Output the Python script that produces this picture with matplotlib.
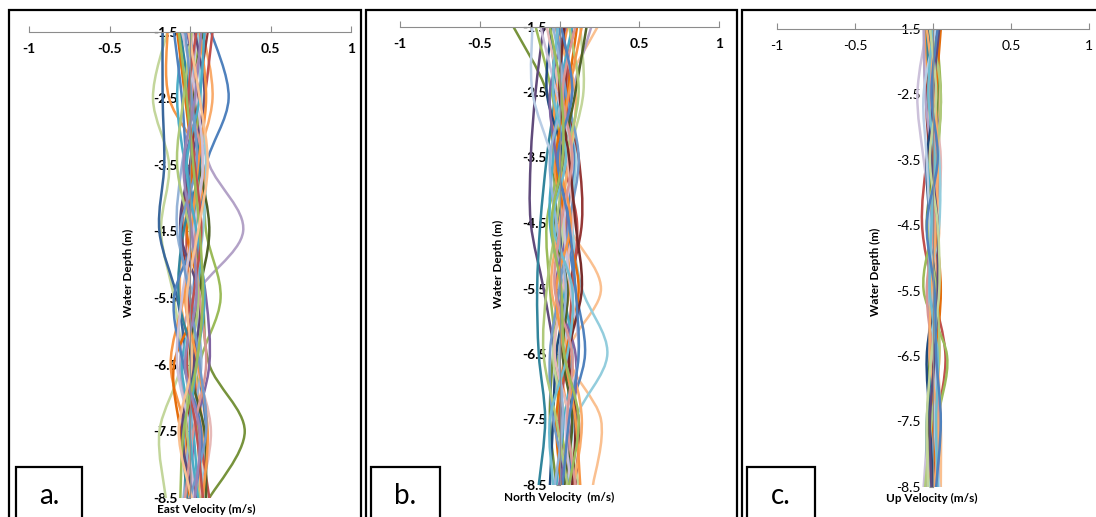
#!/usr/bin/env python3

import matplotlib
matplotlib.use('Agg')
import matplotlib.pyplot as plt
from matplotlib.path import Path
from matplotlib.patches import PathPatch, Rectangle
import numpy as np

plt.rcParams['font.family'] = ['Lato', 'DejaVu Sans']

# depths of each velocity profile (m)
depth = [-1.5, -2.5, -3.5, -4.5, -5.5, -6.5, -7.5, -8.5]

# East velocity profiles (m/s), one list per ensemble
east = [
    [-0.14, -0.23, -0.13, -0.18, -0.10, -0.06, -0.19, -0.15],
    [0.13, 0.24, 0.10, 0.06, 0.02, 0.05, 0.10, 0.08],
    [0.04, 0.02, 0.12, 0.33, 0.02, -0.06, 0.00, 0.03],
    [0.00, 0.04, 0.06, 0.03, 0.08, 0.12, 0.34, 0.12],
    [0.06, 0.03, 0.08, 0.10, 0.19, 0.06, 0.05, 0.07],
    [-0.17, -0.17, -0.16, -0.19, -0.08, -0.02, 0.00, -0.02],
    [-0.14, -0.13, 0.08, 0.02, -0.04, -0.12, -0.03, -0.02],
    [0.08, 0.14, 0.04, -0.04, -0.06, 0.02, 0.08, 0.05],
    [0.14, 0.09, 0.02, -0.02, -0.01, 0.02, 0.06, 0.12],
    [-0.02, 0.05, -0.03, 0.03, 0.10, 0.12, 0.03, 0.00],
    [-0.04, -0.08, -0.03, 0.06, 0.04, -0.05, 0.02, 0.05],
    [0.02, -0.02, 0.05, 0.00, -0.03, 0.04, 0.13, 0.06],
    [0.11, 0.05, 0.00, -0.05, 0.00, 0.03, -0.02, 0.04],
    [0.05, 0.07, 0.10, 0.08, 0.02, -0.03, 0.04, 0.09],
    [-0.08, -0.03, 0.01, -0.02, 0.05, -0.10, -0.06, 0.00],
    [0.00, 0.03, -0.05, -0.08, 0.02, 0.07, 0.00, -0.04],
    [0.08, 0.02, 0.06, 0.12, 0.05, 0.00, 0.09, 0.10],
    [-0.06, 0.00, 0.06, -0.04, -0.07, 0.02, -0.04, -0.02],
    [0.03, 0.09, 0.00, -0.06, 0.06, 0.02, -0.05, 0.02],
    [-0.10, -0.05, -0.02, 0.03, -0.10, -0.04, 0.07, 0.03],
    [0.10, 0.01, 0.08, 0.03, 0.06, 0.10, 0.02, -0.03],
    [0.01, -0.04, -0.08, 0.00, 0.05, 0.00, -0.02, 0.06],
    [0.06, 0.10, 0.05, 0.01, -0.03, 0.05, 0.11, 0.08],
    [-0.05, 0.04, 0.08, 0.02, -0.05, -0.08, 0.00, 0.02],
    [0.09, 0.06, -0.02, 0.04, 0.09, 0.04, 0.00, 0.05],
    [-0.03, 0.01, 0.04, -0.06, 0.00, 0.06, 0.10, 0.00],
    [0.04, -0.01, 0.03, 0.07, 0.02, -0.02, 0.04, 0.08],
    [-0.07, -0.02, 0.02, 0.06, 0.08, 0.04, -0.04, -0.06],
    [0.07, 0.03, -0.04, 0.01, 0.04, -0.03, 0.06, 0.03],
    [-0.01, 0.06, 0.11, 0.05, -0.02, 0.01, -0.07, 0.01],
]
east_colors = ['#C3D69B', '#4F81BD', '#B3A2C7', '#77933C', '#9BBB59', '#3A679C',
               '#F79646', '#F9AB6B', '#C0504D', '#8064A2', '#4BACC6', '#E6B9B8',
               '#943634', '#92CDDC', '#E46C0A', '#95B3D7', '#4F6228', '#31859C',
               '#5F497A', '#4F81BD', '#D99694', '#AFC97A', '#F79646', '#CCC1DA',
               '#4BACC6', '#729ACA', '#C0504D', '#9BBB59', '#9983B5', '#FAC090']

# North velocity profiles (m/s)
north = [
    [-0.29, -0.08, -0.04, -0.02, 0.00, -0.04, -0.06, -0.02],
    [0.24, 0.03, -0.02, 0.05, 0.26, 0.06, 0.26, 0.21],
    [0.20, 0.08, 0.00, -0.04, 0.02, 0.04, 0.00, 0.05],
    [-0.10, -0.15, -0.18, -0.18, -0.10, -0.03, 0.02, 0.00],
    [-0.06, -0.03, -0.08, -0.12, -0.14, -0.13, -0.09, -0.13],
    [0.02, 0.06, 0.10, 0.08, 0.14, 0.30, 0.10, 0.06],
    [-0.17, -0.17, -0.05, 0.02, 0.00, 0.05, 0.08, 0.03],
    [0.08, 0.04, 0.12, 0.14, 0.06, 0.02, 0.12, 0.10],
    [-0.15, -0.05, 0.00, -0.08, -0.06, -0.02, 0.00, 0.08],
    [0.05, -0.02, -0.04, 0.03, 0.06, 0.00, 0.05, 0.02],
    [0.00, 0.03, 0.09, 0.05, 0.10, 0.16, 0.06, 0.08],
    [-0.05, -0.08, 0.02, 0.00, 0.04, -0.02, -0.04, -0.06],
    [0.13, 0.15, 0.06, 0.02, 0.03, -0.04, 0.04, 0.12],
    [0.02, 0.06, 0.03, 0.11, 0.08, 0.05, 0.00, 0.04],
    [-0.03, 0.10, 0.06, 0.00, -0.05, 0.06, 0.14, 0.09],
    [0.08, 0.00, -0.04, -0.06, 0.02, 0.08, 0.03, -0.02],
    [-0.08, 0.00, 0.05, 0.08, 0.02, -0.03, 0.06, 0.04],
    [0.11, 0.05, -0.02, 0.04, 0.12, 0.04, -0.02, 0.01],
    [0.04, -0.06, -0.02, 0.05, -0.02, 0.10, 0.08, 0.00],
    [-0.02, 0.04, 0.12, 0.06, 0.00, -0.06, -0.04, 0.06],
    [0.17, 0.10, 0.02, -0.03, 0.05, 0.02, 0.08, 0.03],
    [-0.12, -0.02, 0.08, 0.03, 0.07, 0.12, 0.04, 0.07],
    [0.06, 0.12, 0.04, -0.02, -0.08, -0.10, -0.02, 0.05],
    [0.03, 0.00, 0.06, 0.10, 0.14, 0.06, 0.10, 0.08],
    [-0.04, 0.02, -0.06, -0.02, 0.04, 0.00, 0.02, -0.03],
    [0.14, 0.06, 0.00, 0.07, -0.02, 0.03, 0.10, 0.13],
    [-0.01, -0.04, 0.04, -0.04, 0.08, 0.05, -0.06, -0.04],
    [0.10, 0.02, 0.08, 0.01, -0.03, 0.08, 0.05, 0.10],
    [0.01, 0.08, -0.01, 0.06, 0.10, 0.12, 0.06, 0.02],
    [-0.06, 0.01, 0.02, -0.05, 0.01, 0.03, 0.12, 0.06],
]
north_colors = ['#77933C', '#FAC090', '#B3A2C7', '#604A7B', '#31859C', '#93CDDD',
                '#B9CDE5', '#953735', '#9BBB59', '#F79646', '#4F81BD', '#1F497D',
                '#C3D69B', '#C0504D', '#F9AB6B', '#4BACC6', '#E6B9B8', '#E46C0A',
                '#8064A2', '#729ACA', '#4F6228', '#CCC1DA', '#AFC97A', '#772C2A',
                '#95B3D7', '#F79646', '#6FBDD1', '#D99694', '#4F81BD', '#9BBB59']

# Up velocity profiles (m/s)
up = [
    [0.04, 0.02, -0.04, -0.07, 0.00, 0.08, 0.03, 0.01],
    [-0.04, -0.10, -0.06, 0.00, 0.02, 0.00, -0.03, -0.06],
    [0.02, 0.05, 0.03, 0.00, -0.06, 0.09, 0.03, 0.02],
    [0.00, 0.02, 0.04, 0.02, 0.00, -0.02, 0.01, 0.04],
    [-0.05, -0.03, 0.00, 0.03, 0.02, 0.04, 0.00, -0.02],
    [0.03, 0.00, -0.03, 0.01, 0.04, 0.01, -0.02, 0.01],
    [-0.01, 0.03, 0.02, -0.02, -0.01, 0.02, 0.04, 0.03],
    [0.04, 0.01, 0.05, 0.03, 0.00, -0.03, 0.02, -0.01],
    [-0.04, -0.02, 0.01, -0.03, 0.03, 0.00, -0.04, -0.03],
    [0.01, 0.04, 0.00, 0.04, 0.01, 0.03, 0.05, 0.05],
    [-0.02, 0.00, 0.03, -0.01, -0.03, 0.02, -0.01, 0.02],
    [0.02, -0.04, -0.02, 0.02, 0.03, -0.01, 0.03, 0.00],
    [-0.06, -0.05, -0.01, 0.00, 0.00, 0.03, 0.00, -0.04],
    [0.03, 0.03, 0.01, -0.04, 0.02, -0.02, -0.03, 0.01],
    [0.00, -0.01, 0.04, 0.04, -0.02, 0.01, 0.02, -0.02],
    [0.05, 0.02, 0.00, 0.02, 0.05, 0.02, 0.00, 0.03],
    [-0.03, 0.01, -0.04, -0.02, 0.01, -0.04, -0.02, 0.00],
    [0.01, -0.02, 0.02, 0.01, -0.04, 0.00, 0.04, 0.02],
    [-0.01, 0.05, 0.02, -0.03, 0.02, 0.04, -0.01, -0.05],
    [0.02, -0.06, -0.04, -0.02, 0.00, 0.02, 0.01, 0.04],
    [-0.04, 0.01, 0.03, 0.02, -0.01, -0.02, 0.03, 0.01],
    [0.04, 0.00, -0.01, 0.03, 0.03, 0.01, -0.02, -0.01],
    [0.00, -0.03, 0.01, -0.01, -0.02, 0.03, 0.02, 0.03],
    [-0.02, 0.02, -0.02, 0.03, 0.04, -0.01, -0.04, -0.03],
    [0.03, -0.01, 0.03, -0.04, 0.01, 0.02, 0.05, 0.02],
]
up_colors = ['#C0504D', '#CCC1DA', '#9BBB59', '#4F81BD', '#F79646', '#4BACC6',
             '#8064A2', '#E6B9B8', '#31859C', '#FAC090', '#95B3D7', '#943634',
             '#B3A2C7', '#77933C', '#93CDDD', '#E46C0A', '#1F497D', '#D99694',
             '#AFC97A', '#B9CDE5', '#F9AB6B', '#604A7B', '#6FBDD1', '#C3D69B',
             '#4F81BD']

x_ticks = [-1, -0.5, 0, 0.5, 1]
x_ticklabels = ['-1', '-0.5', '0', '0.5', '1']
y_ticks = [-1.5, -2.5, -3.5, -4.5, -5.5, -6.5, -7.5, -8.5]


def smooth_path(xs, ys):
    # excel style smoothed line: bezier segments through every point
    pts = np.column_stack([xs, ys])
    n = len(pts)
    verts = [pts[0]]
    codes = [Path.MOVETO]
    for i in range(n - 1):
        prev = pts[max(i - 1, 0)]
        nxt = pts[min(i + 2, n - 1)]
        verts += [pts[i] + (pts[i + 1] - prev) / 6,
                  pts[i + 1] - (nxt - pts[i]) / 6,
                  pts[i + 1]]
        codes += [Path.CURVE4] * 3
    return Path(verts, codes)


W, H = 1096, 517
fig = plt.figure(figsize=(W / 100, H / 100), dpi=100)


def px_axes(x0, x1, y0, y1):
    return fig.add_axes([x0 / W, 1 - y1 / H, (x1 - x0) / W, (y1 - y0) / H])


panels = [
    # data, colours, axes px box, border px, letter box px, letter, xlabel, xlabel pos, ylabel pos, bold ticks
    (east, east_colors, (29, 351, 31.5, 498), (9, 361), (16, 82), 'a.',
     'East Velocity (m/s)', (206, 509), (128, 273), True),
    (north, north_colors, (400, 719, 26.5, 485), (366, 737), (371, 440), 'b.',
     'North Velocity  (m/s)', (559, 497), (498, 264), True),
    (up, up_colors, (777, 1089, 28.5, 487), (742, 1110), (747, 815), 'c.',
     'Up Velocity (m/s)', (932, 498), (875, 272), False),
]

for data, cols, box, border, lbox, letter, xlab, xlab_pos, ylab_pos, bold in panels:
    ax = px_axes(*box)
    for prof, col in zip(data, cols):
        ax.add_patch(PathPatch(smooth_path(prof, depth), fill=False,
                               edgecolor=col, lw=1.8,
                               capstyle='round', joinstyle='round'))
    ax.set_xlim(-1, 1)
    ax.set_ylim(-8.5, -1.5)
    ax.set_axisbelow(True)
    ax.patch.set_visible(False)

    for side in ['top', 'right']:
        ax.spines[side].set_visible(False)
    ax.spines['bottom'].set_position(('data', -1.5))
    ax.spines['left'].set_position(('data', 0))
    ax.spines['bottom'].set_color('#8c8c8c')
    ax.spines['left'].set_color('#8c8c8c')

    weight = 'bold' if bold else 'normal'
    ax.set_xticks(x_ticks)
    ax.set_xticklabels(x_ticklabels, fontsize=10, fontweight=weight)
    ax.set_yticks(y_ticks)
    ax.set_yticklabels([str(v) for v in y_ticks], fontsize=10, fontweight=weight)
    ax.tick_params(axis='x', direction='in', length=4, color='#8c8c8c', pad=8)
    ax.tick_params(axis='y', direction='out', length=3, color='#8c8c8c', pad=6)

    fig.text(xlab_pos[0] / W, 1 - xlab_pos[1] / H, xlab, fontsize=8.5,
             fontweight='bold', ha='center', va='center')
    fig.text(ylab_pos[0] / W, 1 - ylab_pos[1] / H, 'Water Depth (m)', fontsize=8.5,
             fontweight='bold', ha='center', va='center', rotation=90)

    # outer panel frame
    fig.add_artist(Rectangle((border[0] / W, -0.1), (border[1] - border[0]) / W,
                             1.1 - 10 / H, transform=fig.transFigure,
                             fill=False, edgecolor='black', lw=1.6))
    # letter box
    fig.add_artist(Rectangle((lbox[0] / W, -0.1), (lbox[1] - lbox[0]) / W,
                             0.1 + (H - 467) / H, transform=fig.transFigure,
                             facecolor='white', edgecolor='black', lw=1.6))
    fig.text((lbox[0] + lbox[1]) / 2 / W, 1 - 496 / H, letter, fontsize=20,
             ha='center', va='center')

fig.savefig('out.png', dpi=100)
plt.close()
